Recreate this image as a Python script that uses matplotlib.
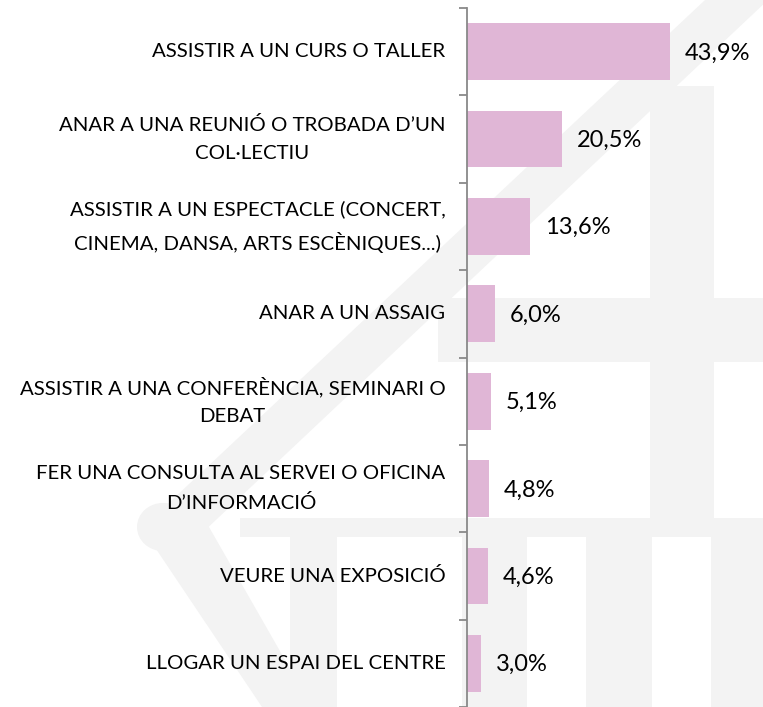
import matplotlib
matplotlib.use('Agg')
import matplotlib.pyplot as plt
from matplotlib.patches import Polygon, Circle

## Data
categories = ['ASSISTIR A UN CURS O TALLER',
              'ANAR A UNA REUNIÓ O TROBADA D\u2019UN\nCOL\u00b7LECTIU',
              'ASSISTIR A UN ESPECTACLE (CONCERT,\nCINEMA, DANSA, ARTS ESCÈNIQUES...)',
              'ANAR A UN ASSAIG',
              'ASSISTIR A UNA CONFERÈNCIA, SEMINARI O\nDEBAT',
              'FER UNA CONSULTA AL SERVEI O OFICINA\nD\u2019INFORMACIÓ',
              'VEURE UNA EXPOSICIÓ',
              'LLOGAR UN ESPAI DEL CENTRE']
values = [43.9, 20.5, 13.6, 6.0, 5.1, 4.8, 4.6, 3.0]
value_labels = ['43,9%', '20,5%', '13,6%', '6,0%', '5,1%', '4,8%', '4,6%', '3,0%']

W, H = 763, 707
fig = plt.figure(figsize=(W / 100, H / 100), dpi=100)
fig.patch.set_facecolor('white')

## faint logo watermark behind the chart (pixel coords -> figure coords)
g = '#f3f3f3'

def fpoly(pts, color=g):
    xy = [(x / W, 1 - y / H) for x, y in pts]
    fig.patches.append(Polygon(xy, closed=True, transform=fig.transFigure,
                               facecolor=color, edgecolor='none', zorder=0))

def frect(x0, y0, x1, y1, color=g):
    fpoly([(x0, y0), (x1, y0), (x1, y1), (x0, y1)], color)

fpoly([(705, 0), (768, 0), (200, 535), (140, 530)])      # upper arm
fpoly([(150, 540), (205, 520), (312, 707), (262, 707)])  # lower arm
fig.patches.append(Circle((163 / W, 1 - 527 / H), 26 / W, transform=fig.transFigure,
                          facecolor=g, edgecolor='none', zorder=0))
frect(650, 86, 714, 298)     # pillar
frect(438, 298, 763, 362)    # upper floor band
frect(650, 362, 714, 518)
frect(240, 518, 763, 537)    # lower floor band
for x0, x1 in [(290, 337), (462, 527), (586, 652), (711, 763)]:
    frect(x0, 537, x1, 707)

## Bar chart
ax = fig.add_axes([467 / W, 0, 1 - 467 / W, 1 - 8 / H])
ax.set_zorder(1)
ax.set_facecolor('none')
ypos = list(range(len(categories)))
ax.barh(ypos, values, height=0.65, color='#e0b6d6', zorder=2)
ax.set_ylim(len(categories) - 0.5, -0.5)
ax.set_xlim(0, 296 / 4.63)

for s in ['top', 'right', 'bottom']:
    ax.spines[s].set_visible(False)
ax.spines['left'].set_color('#898989')
ax.spines['left'].set_linewidth(1.3)
ax.set_xticks([])
ax.set_yticks([i - 0.5 for i in range(len(categories) + 1)])
ax.set_yticklabels([])
ax.tick_params(axis='y', direction='out', length=6, width=1.3, color='#898989')

for i, (lab, v, vl) in enumerate(zip(categories, values, value_labels)):
    ax.annotate(lab, xy=(0, i), xytext=(-15.5, 0), textcoords='offset points',
                ha='right', va='center', multialignment='center',
                fontsize=14.7, family='Lato', linespacing=1.75, color='black')
    ax.annotate(vl, xy=(v, i), xytext=(10.5, -1), textcoords='offset points',
                ha='left', va='center', fontsize=17, family='Lato', color='black')

fig.savefig('out.png', dpi=100)
